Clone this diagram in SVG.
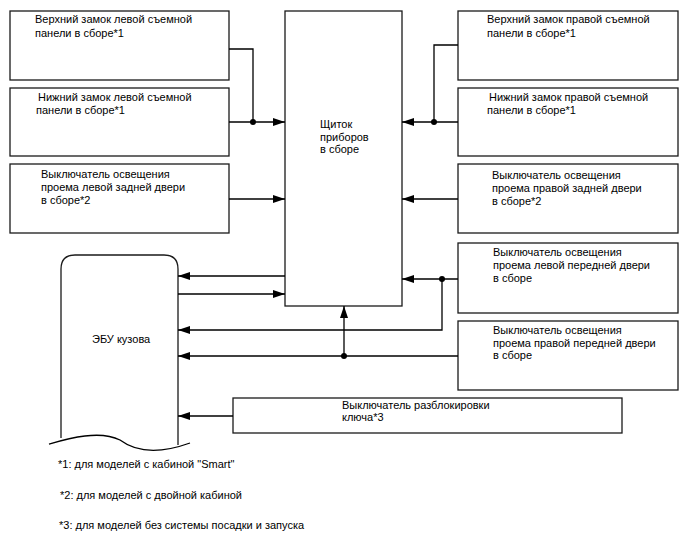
<svg xmlns="http://www.w3.org/2000/svg" width="688" height="560" viewBox="0 0 688 560">
<defs>
<style>
.box{fill:#fff;stroke:#1a1a1a;stroke-width:1.3}
.ln{fill:none;stroke:#000;stroke-width:1.3}
.t{font-family:"Liberation Sans",Arial,sans-serif;font-size:11px;fill:#000}
.dot{fill:#000}
</style>
<marker id="ah" viewBox="0 0 12 8" refX="12" refY="4" markerWidth="12" markerHeight="8" markerUnits="userSpaceOnUse" orient="auto">
<path d="M0,0 L12,4 L0,8 Z" fill="#000"/>
</marker>
</defs>
<rect width="688" height="560" fill="#fff"/>

<g id="n-left-upper-lock">
<rect class="box" x="10" y="11" width="219" height="69"/>
<text class="t" x="35" y="23">Верхний замок левой съемной</text>
<text class="t" x="35" y="36.5">панели в сборе*1</text>
</g>
<g id="n-left-lower-lock">
<rect class="box" x="10" y="88" width="219" height="68"/>
<text class="t" x="38" y="100.5">Нижний замок левой съемной</text>
<text class="t" x="36" y="113.5">панели в сборе*1</text>
</g>
<g id="n-left-rear-door">
<rect class="box" x="10" y="164" width="219" height="69"/>
<text class="t" x="41" y="178">Выключатель освещения</text>
<text class="t" x="41" y="191">проема левой задней двери</text>
<text class="t" x="41" y="204">в сборе*2</text>
</g>
<g id="n-meter">
<rect class="box" x="285" y="11" width="117" height="295"/>
<text class="t" x="320" y="128">Щиток</text>
<text class="t" x="320" y="140.5">приборов</text>
<text class="t" x="320" y="153">в сборе</text>
</g>
<g id="n-right-upper-lock">
<rect class="box" x="458" y="11" width="220" height="69"/>
<text class="t" x="487" y="23">Верхний замок правой съемной</text>
<text class="t" x="487" y="36.5">панели в сборе*1</text>
</g>
<g id="n-right-lower-lock">
<rect class="box" x="458" y="88" width="220" height="68"/>
<text class="t" x="489" y="100.5">Нижний замок правой съемной</text>
<text class="t" x="487" y="113.5">панели в сборе*1</text>
</g>
<g id="n-right-rear-door">
<rect class="box" x="458" y="164" width="220" height="69"/>
<text class="t" x="492" y="178.5">Выключатель освещения</text>
<text class="t" x="492" y="191.5">проема правой задней двери</text>
<text class="t" x="492" y="204.5">в сборе*2</text>
</g>
<g id="n-left-front-door">
<rect class="box" x="458" y="243" width="220" height="70"/>
<text class="t" x="493" y="256">Выключатель освещения</text>
<text class="t" x="493" y="269">проема левой передней двери</text>
<text class="t" x="493" y="282">в сборе</text>
</g>
<g id="n-right-front-door">
<rect class="box" x="458" y="321" width="220" height="69"/>
<text class="t" x="493" y="333.5">Выключатель освещения</text>
<text class="t" x="493" y="346.5">проема правой передней двери</text>
<text class="t" x="493" y="359">в сборе</text>
</g>
<g id="n-key-unlock">
<rect class="box" x="233" y="398" width="389" height="35"/>
<text class="t" x="342" y="408.5">Выключатель разблокировки</text>
<text class="t" x="342" y="421">ключа*3</text>
</g>
<g id="n-body-ecu">
<path class="box" d="M61,438 L61,269 Q61,255 75,255 L164,255 Q178,255 178,269 L178,445"/>
<path class="ln" d="M49,444 C70,438 100,430 120,440 C140,455 165,452 190,443"/>
<text class="t" x="92" y="343">ЭБУ кузова</text>
</g>

<g id="connectors">
<path class="ln" d="M229,49 H253 V122"/>
<path class="ln" d="M229,122 H285" marker-end="url(#ah)"/>
<circle class="dot" cx="253" cy="122" r="3"/>
<path class="ln" d="M458,45 H434 V122"/>
<path class="ln" d="M458,122 H402" marker-end="url(#ah)"/>
<circle class="dot" cx="434" cy="122" r="3"/>
<path class="ln" d="M229,199 H285" marker-end="url(#ah)"/>
<path class="ln" d="M458,199 H402" marker-end="url(#ah)"/>
<path class="ln" d="M285,276 H178" marker-end="url(#ah)"/>
<path class="ln" d="M178,294 H285" marker-end="url(#ah)"/>
<path class="ln" d="M458,279 H402" marker-end="url(#ah)"/>
<path class="ln" d="M442,279 V330 H178" marker-end="url(#ah)"/>
<circle class="dot" cx="442" cy="279" r="3"/>
<path class="ln" d="M458,356 H178" marker-end="url(#ah)"/>
<path class="ln" d="M344,356 V306" marker-end="url(#ah)"/>
<circle class="dot" cx="344" cy="356" r="3"/>
<path class="ln" d="M233,416 H178" marker-end="url(#ah)"/>
</g>

<g id="notes">
<text class="t" x="58" y="468">*1: для моделей с кабиной "Smart"</text>
<text class="t" x="60" y="499">*2: для моделей с двойной кабиной</text>
<text class="t" x="59" y="529">*3: для моделей без системы посадки и запуска</text>
</g>
</svg>
